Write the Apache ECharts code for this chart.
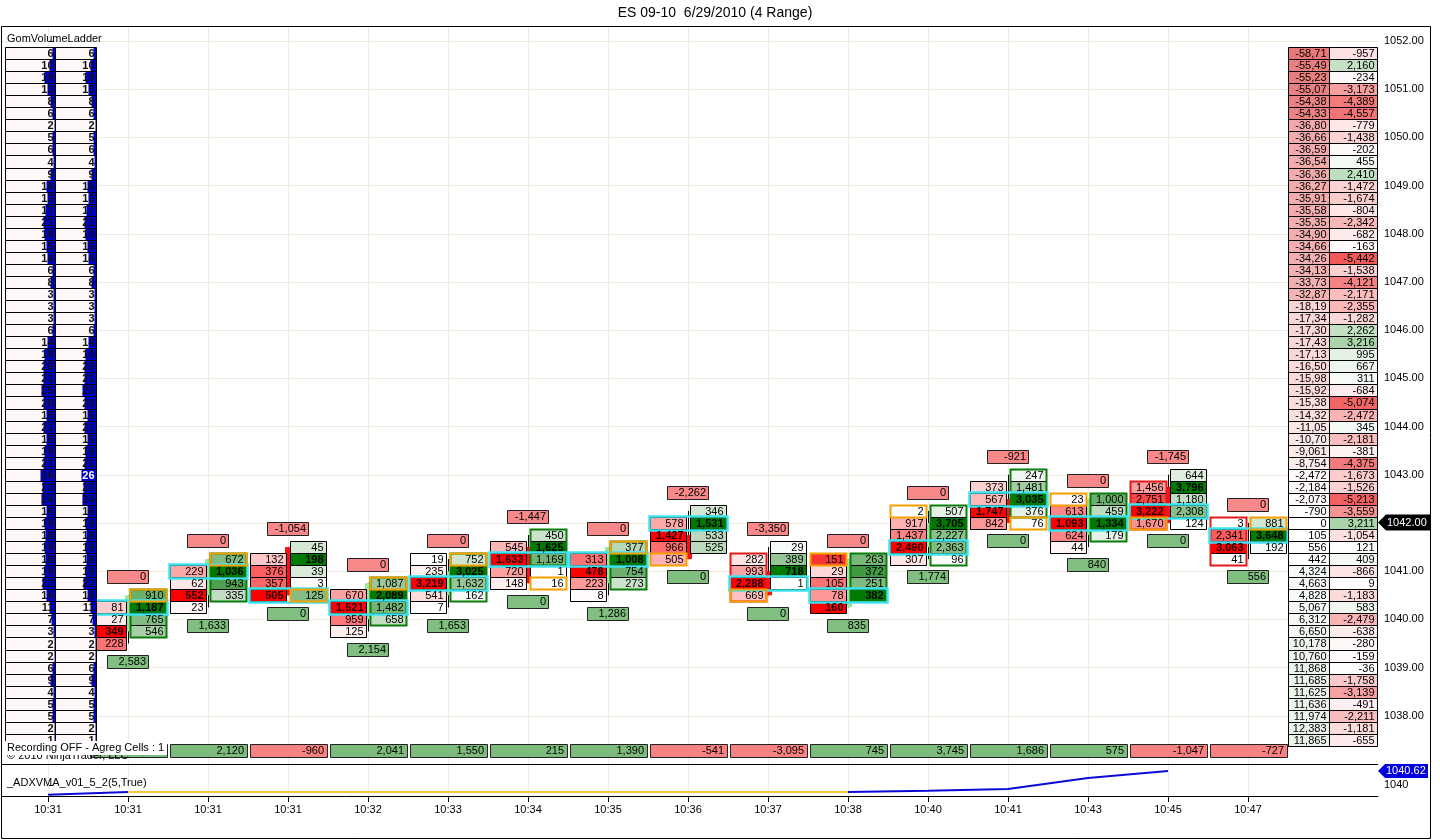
<!DOCTYPE html>
<html><head><meta charset="utf-8">
<script src="https://cdn.jsdelivr.net/npm/echarts@6/dist/echarts.min.js"></script>
<style>html,body{margin:0;padding:0;background:#fff;}#c{width:1440px;height:840px;}</style>
</head><body><div id="c"></div>
<script>
const FF = '"Liberation Sans", Arial, sans-serif';
const FFN = '"Liberation Sans Narrow", "Liberation Sans", Arial, sans-serif';

// ---------- DATA ----------
const times = ["10:31","10:31","10:31","10:31","10:32","10:33","10:34","10:35","10:36","10:37","10:38","10:40","10:41","10:43","10:45","10:47"];
const TICK = 0.25;
const firstBarIdx = 1;               // footprint bars start at the 2nd time slot
const barHigh = [1040.50,1041.25,1041.50,1040.75,1041.25,1041.75,1041.50,1042.25,1041.50,1041.25,1042.25,1043.00,1042.50,1043.00,1042.00];
const barOpen  = [1039.75,1040.50,1041.50,1040.00,1040.50,1041.50,1040.75,1041.75,1041.00,1040.25,1041.50,1042.50,1041.75,1042.75,1041.75];
const barClose = [1040.50,1041.25,1040.50,1040.75,1041.00,1040.75,1041.50,1041.25,1040.50,1041.25,1042.00,1042.00,1042.50,1042.00,1041.75];
const bidVol = [
 [null,81,27,349,228],
 [null,229,62,552,23],
 [null,132,376,357,505],
 [null,670,1521,959,125],
 [19,235,3219,541,7],
 [null,545,1633,720,148],
 [null,313,478,223,8],
 [null,578,1427,966,505],
 [null,282,993,2288,669],
 [151,29,105,78,160],
 [2,917,1437,2490,307],
 [null,373,567,1747,842],
 [23,613,1093,624,44],
 [null,1456,2751,3222,1670],
 [3,2341,3063,41]
];
const askVol = [
 [910,1187,765,546,null],
 [672,1036,943,335,null],
 [45,198,39,3,125],
 [1087,2089,1482,658,null],
 [752,3025,1632,162,null],
 [450,1625,1169,1,16],
 [377,1008,754,273,null],
 [346,1531,533,525,null],
 [29,389,718,1,null],
 [263,372,251,382,null],
 [507,3705,2227,2363,96],
 [247,1481,3035,376,76],
 [1000,459,1334,179,null],
 [644,3796,1180,2308,124],
 [881,3648,192,null]
];
const lastTradePrice = [1040.50,1041.25,1040.50,1040.75,1041.25,1040.75,1041.50,1041.25,1040.50,1041.25,1042.25,1042.00,1042.50,1042.00,1042.00];
const lastTradeSide  = ['A','A','A','A','A','A','A','B','B','B','B','A','B','B','A'];
const outlineHi = [1040.50,1041.25,null,1040.75,1041.25,1041.75,1041.50,null,1041.25,1041.25,1042.25,1043.00,1042.50,1042.75,1042.00];
const outlineLo = [1039.75,1040.50,null,1040.00,1040.50,1041.25,1040.75,null,1040.50,1040.50,1041.25,1042.25,1041.75,1042.00,1041.25];
const topLabel    = [0,0,-1054,0,0,-1447,0,-2262,-3350,0,0,-921,0,-1745,0];
const bottomLabel = [2583,1633,0,2154,1653,0,1286,0,0,835,1774,0,840,0,556];
const barDelta    = [2723,2120,-960,2041,1550,215,1390,-541,-3095,745,3745,1686,575,-1047,-727];

const ladderTop = 1051.75;
const ladderVol = [6,10,19,13,8,6,2,5,6,4,9,16,13,17,21,19,15,14,6,8,3,3,3,6,14,19,20,21,25,
                   20,15,21,15,19,21,26,23,24,16,19,18,19,18,19,22,16,11,7,3,2,2,6,9,4,5,5,2,1];
const cumDelta = [-58710,-55490,-55230,-55070,-54380,-54330,-36800,-36660,-36590,-36540,-36360,-36270,-35910,-35580,-35350,-34900,
                  -34660,-34260,-34130,-33730,-32870,-18190,-17340,-17300,-17430,-17130,-16500,-15980,-15920,-15380,-14320,-11050,
                  -10700,-9061,-8754,-2472,-2184,-2073,-790,0,105,556,442,4324,4663,4828,5067,6312,
                  6650,10178,10760,11868,11685,11625,11636,11974,12383,11865];
const priceDelta = [-957,2160,-234,-3173,-4389,-4557,-779,-1438,-202,455,2410,-1472,-1674,-804,-2342,-682,
                    -163,-5442,-1538,-4121,-2171,-2355,-1282,2262,3216,995,667,311,-684,-5074,-2472,345,
                    -2181,-381,-4375,-1673,-1526,-5213,-3559,3211,-1054,121,409,-866,9,-1183,583,-2479,
                    -638,-280,-159,-36,-1758,-3139,-491,-2211,-1181,-655];
const lastPrice = 1042.00;
const priceTicks = [1038,1039,1040,1041,1042,1043,1044,1045,1046,1047,1048,1049,1050,1051,1052];
const adx = [1039.56,1039.69,1039.69,1039.69,1039.69,1039.69,1039.69,1039.69,1039.69,1039.69,1039.69,1039.74,1039.82,1040.31,1040.62,null];

// ---------- helpers ----------
const X_MIN = -0.575, X_MAX = 16.625;
const rowPrice = i => ladderTop - TICK * i;
const fmt = v => v.toLocaleString('en-US');
function mix(a, b, t){ t = Math.max(0, Math.min(1, t)); return 'rgb(' + [0,1,2].map(i => Math.round(a[i] + (b[i]-a[i])*t)).join(',') + ')'; }
const WH = [255,255,255];
function bidColor(v, m){ return v === m ? 'rgb(255,0,0)' : mix(WH, [250,40,40], v/m); }
function askColor(v, m){ return v === m ? 'rgb(0,122,0)' : mix(WH, [60,150,60], v/m); }
const absMaxCum = Math.max(...cumDelta.map(Math.abs));
const absMaxPD = Math.max(...priceDelta.map(Math.abs));
function cumColor(v){ return v < 0 ? mix(WH, [232,120,120], -v/absMaxCum) : mix(WH, [150,195,150], v/absMaxCum); }
function pdColor(v){ return v < 0 ? mix(WH, [240,90,90], -v/absMaxPD) : mix(WH, [110,180,110], v/absMaxPD); }
const idxList = times.map((t,i) => i);

function txt(text, x, y, opts){
  return {type:'text', z2: 10, style: Object.assign({text: text, x: x, y: y, align:'right', verticalAlign:'middle', font: '11px ' + FF, fill:'#000'}, opts || {})};
}
function box(x, y, w, h, fill, stroke, lw){
  return {type:'rect', shape:{x:x, y:y, width:w, height:h}, style:{fill: fill || 'none', stroke: stroke || null, lineWidth: lw || 1}};
}
// row edges shared between neighbours (no double lines)
function rowEdges(api, xv, p){
  const t = Math.round(api.coord([xv, p + TICK/2])[1]) + 0.5;
  const b = Math.round(api.coord([xv, p - TICK/2])[1]) + 0.5;
  return [t, b - t];
}

// ---------- renderers ----------
function renderGridLines(params, api){
  const cs = params.coordSys;
  const x = Math.round(api.coord([api.value(0), api.value(1)])[0]) + 0.5;
  return {type:'line', shape:{x1:x, y1:cs.y, x2:x, y2:cs.y+cs.height}, style:{stroke:'#f0ebdd', lineWidth:1}};
}

function renderFoot(params, api){
  const k = params.dataIndex;
  const cs = params.coordSys;
  const xi = api.value(0);
  const hi = barHigh[k];
  const bids = bidVol[k], asks = askVol[k];
  const n = bids.length;
  const lo = hi - TICK*(n-1);
  const c = Math.round(api.coord([xi, hi])[0]);
  const yOf = p => api.coord([xi, p])[1];
  const bx = c - 38 + 0.5, ax = c + 2 + 0.5, CW = 36;
  const ch = [];
  // wick
  ch.push({type:'line', shape:{x1:c+0.5, y1:yOf(hi), x2:c+0.5, y2:yOf(lo)}, style:{stroke:'#000', lineWidth:1}});
  // body
  const o = barOpen[k], cl = barClose[k];
  if (o !== cl) {
    const y1 = yOf(Math.max(o,cl)), y2 = yOf(Math.min(o,cl));
    ch.push(box(c-3, y1, 7, y2-y1, cl > o ? '#9be49b' : '#ff1010'));
  }
  const bv = bids.filter(v => v != null), av = asks.filter(v => v != null);
  const bMax = Math.max(...bv), aMax = Math.max(...av);
  let poc = 0, pocV = -1;
  for (let j = 0; j < n; j++) {
    const p = hi - TICK*j;
    const [top, RH] = rowEdges(api, xi, p);
    const mid = top + RH/2;
    const b = bids[j], a = asks[j];
    if (b != null) {
      ch.push(box(bx, top, CW, RH, bidColor(b, bMax), '#000', 1));
      ch.push(txt(fmt(b), bx + CW - 3, mid, b === bMax ? {font:'bold 11px ' + FF, fill:'#200000'} : null));
    }
    if (a != null) {
      ch.push(box(ax, top, CW, RH, askColor(a, aMax), '#000', 1));
      ch.push(txt(fmt(a), ax + CW - 3, mid, a === aMax ? {font:'bold 11px ' + FF} : null));
    }
    const tot = (b || 0) + (a || 0);
    if (tot > pocV) { pocV = tot; poc = j; }
  }
  // outline (side by delta sign)
  if (outlineHi[k] != null) {
    const up = barDelta[k] >= 0;
    const t = rowEdges(api, xi, outlineHi[k])[0];
    const lb = rowEdges(api, xi, outlineLo[k]);
    ch.push(box(up ? ax : bx, t, CW, lb[0] + lb[1] - t, null, up ? '#0b7d0b' : '#e41a1a', 2));
  }
  // point of control
  {
    const [t, RH] = rowEdges(api, xi, hi - TICK*poc);
    ch.push(box(bx - 1, t - 1, ax + CW - bx + 2, RH + 2, null, '#3fe3ef', 2.5));
  }
  // last trade cell
  {
    const [t, RH] = rowEdges(api, xi, lastTradePrice[k]);
    ch.push(box(lastTradeSide[k] === 'A' ? ax : bx, t, CW, RH, null, '#f5a000', 2));
  }
  // top / bottom labels
  {
    const yt = Math.round(yOf(hi + 0.38) - 6.5) + 0.5;
    ch.push(box(c - 21 + 0.5, yt, 41, 13, '#f98888', '#222', 1));
    ch.push(txt(fmt(topLabel[k]), c + 18, yt + 6.5));
    const yb = Math.round(yOf(lo - 0.37) - 6.5) + 0.5;
    ch.push(box(c - 21 + 0.5, yb, 41, 13, '#80bf80', '#222', 1));
    ch.push(txt(fmt(bottomLabel[k]), c + 18, yb + 6.5));
  }
  // bar delta row at bottom
  {
    const yd = cs.y + cs.height - 20 + 0.5;
    const d = barDelta[k];
    ch.push(box(c - 38 + 0.5, yd, 77, 13, d >= 0 ? '#7dbb7d' : '#f88282', '#222', 1));
    ch.push(txt(fmt(d), c + 36, yd + 6.5));
  }
  return {type:'group', children: ch};
}

const ladderMax = Math.max(...ladderVol);
function renderLadder(params, api){
  const i = params.dataIndex;
  const cs = params.coordSys;
  const p = api.value(1);
  const v = ladderVol[i];
  const [top, RH] = rowEdges(api, 0, p);
  const mid = top + RH/2;
  const ch = [];
  const cols = [[cs.x + 3, 50], [cs.x + 53, 41]];
  cols.forEach((cc, ci) => {
    const x = cc[0] + 0.5, w = cc[1];
    ch.push(box(x, top, w, RH, '#fff8f8', null));
    const bw = Math.min(w, Math.round(v * 0.58));
    ch.push(box(x + w - bw, top, bw, RH, '#0000cc', null));
    ch.push(box(x, top, w, RH, null, '#000', 1));
    const white = ci === 1 && v === ladderMax;
    ch.push(txt(String(v), x + w - 2, mid + 0.5, {font:'bold 11px ' + FFN, fill: white ? '#fff' : '#101010'}));
  });
  return {type:'group', children: ch};
}

function renderRight(params, api){
  const i = params.dataIndex;
  const cs = params.coordSys;
  const p = api.value(1);
  const [top, RH] = rowEdges(api, 0, p);
  const mid = top + RH/2;
  const R = cs.x + cs.width;
  const ch = [];
  const c1x = R - 90 + 0.5, c1w = 41, c2x = R - 49 + 0.5, c2w = 48;
  ch.push(box(c1x, top, c1w, RH, cumColor(cumDelta[i]), '#000', 1));
  ch.push(txt(fmt(cumDelta[i]).slice(0, 6), c1x + c1w - 3, mid));
  ch.push(box(c2x, top, c2w, RH, pdColor(priceDelta[i]), '#000', 1));
  ch.push(txt(fmt(priceDelta[i]), c2x + c2w - 3, mid));
  if (p === lastPrice) {
    const yc = Math.round(api.coord([0, p])[1]) - 0.5;
    ch.push({type:'polygon', shape:{points:[[R, yc],[R+8, yc-8],[R+52, yc-8],[R+52, yc+8],[R+8, yc+8]]}, style:{fill:'#000'}, z2: 20});
    ch.push({type:'text', z2: 21, style:{text: lastPrice.toFixed(2), x: R+9, y: yc, align:'left', verticalAlign:'middle', font:'11px ' + FF, fill:'#fff'}});
  }
  return {type:'group', children: ch};
}

function renderAdxTag(params, api){
  const cs = params.coordSys;
  const R = cs.x + cs.width;
  const yc = Math.round(api.coord([api.value(0), api.value(1)])[1]);
  return {type:'group', children:[
    {type:'polygon', shape:{points:[[R, yc],[R+7, yc-7],[R+50, yc-7],[R+50, yc+7],[R+7, yc+7]]}, style:{fill:'#0000e0'}},
    {type:'text', style:{text: api.value(1).toFixed(2), x: R+8, y: yc, align:'left', verticalAlign:'middle', font:'11px ' + FF, fill:'#fff'}}
  ]};
}

// ADX colouring: flat segments yellow, moving segments blue
const adxBlue = adx.map((v, i) => {
  if (v == null) return [i, '-'];
  const prevMove = i > 0 && adx[i-1] != null && adx[i-1] !== v;
  const nextMove = i < adx.length-1 && adx[i+1] != null && adx[i+1] !== v;
  return [i, (prevMove || nextMove) ? v : '-'];
});
const adxYellow = adx.map((v, i) => {
  if (v == null) return [i, '-'];
  const prevFlat = i > 0 && adx[i-1] === v;
  const nextFlat = i < adx.length-1 && adx[i+1] === v;
  return [i, (prevFlat || nextFlat) ? v : '-'];
});
let lastAdxIdx = adx.length - 1; while (adx[lastAdxIdx] == null) lastAdxIdx--;

const chart = echarts.init(document.getElementById('c'));
chart.setOption({
  animation: false,
  backgroundColor: '#ffffff',
  textStyle: {fontFamily: FF},
  grid: [
    {left: 2, top: 27, width: 1376, height: 737},
    {left: 2, top: 764, width: 1376, height: 32}
  ],
  xAxis: [
    {gridIndex: 0, type: 'value', min: X_MIN, max: X_MAX, show: false},
    {gridIndex: 1, type: 'value', min: X_MIN, max: X_MAX,
     axisLine: {show: true, lineStyle: {color: '#000', width: 1}},
     axisTick: {show: true, customValues: idxList, length: 6, lineStyle: {color: '#000'}},
     axisLabel: {show: true, customValues: idxList, formatter: v => times[Math.round(v)], color: '#000', fontSize: 11, fontFamily: FF, margin: 8},
     splitLine: {show: false}}
  ],
  yAxis: [
    {gridIndex: 0, type: 'value', position: 'right', min: 1037, max: 1052.29, interval: 1,
     axisLine: {show: true, lineStyle: {color: '#000'}},
     axisTick: {show: true, customValues: priceTicks, length: 5, lineStyle: {color: '#000'}},
     axisLabel: {show: true, customValues: priceTicks, formatter: v => Number(v).toFixed(2), color: '#000', fontSize: 11, fontFamily: FF, margin: 6},
     splitLine: {show: true, lineStyle: {color: '#f0ebdd', width: 1}}},
    {gridIndex: 1, type: 'value', position: 'right', min: 1039.51, max: 1040.93,
     axisLine: {show: true, lineStyle: {color: '#000'}},
     axisTick: {show: true, customValues: [1040], length: 5, lineStyle: {color: '#000'}},
     axisLabel: {show: true, customValues: [1040], formatter: v => String(Math.round(v)), color: '#000', fontSize: 11, fontFamily: FF, margin: 6},
     splitLine: {show: false}}
  ],
  series: [
    {type: 'custom', name: 'vgrid0', xAxisIndex: 0, yAxisIndex: 0, z: 1, silent: true,
     data: idxList.map(i => [i, 1045]), renderItem: renderGridLines},
    {type: 'custom', name: 'vgrid1', xAxisIndex: 1, yAxisIndex: 1, z: 1, silent: true,
     data: idxList.map(i => [i, 1040]), renderItem: renderGridLines},
    {type: 'custom', name: 'footprint', xAxisIndex: 0, yAxisIndex: 0, z: 3, silent: true, clip: false,
     data: barHigh.map((h, k) => [k + firstBarIdx, h]), renderItem: renderFoot},
    {type: 'custom', name: 'ladder', xAxisIndex: 0, yAxisIndex: 0, z: 4, silent: true, clip: false,
     data: ladderVol.map((v, i) => [0, rowPrice(i), v]), renderItem: renderLadder},
    {type: 'custom', name: 'rightcol', xAxisIndex: 0, yAxisIndex: 0, z: 4, silent: true, clip: false,
     data: cumDelta.map((v, i) => [0, rowPrice(i), v]), renderItem: renderRight},
    {type: 'line', name: 'adxBlue', xAxisIndex: 1, yAxisIndex: 1, z: 3, data: adxBlue, showSymbol: false,
     connectNulls: false, lineStyle: {color: '#0a0ad8', width: 2}, itemStyle: {color: '#0a0ad8'}},
    {type: 'line', name: 'adxYellow', xAxisIndex: 1, yAxisIndex: 1, z: 3, data: adxYellow, showSymbol: false,
     connectNulls: false, lineStyle: {color: '#f6c83a', width: 2}, itemStyle: {color: '#f6c83a'}},
    {type: 'custom', name: 'adxTag', xAxisIndex: 1, yAxisIndex: 1, z: 5, silent: true, clip: false,
     data: [[lastAdxIdx, adx[lastAdxIdx]]], renderItem: renderAdxTag}
  ],
  graphic: [
    {type: 'text', z: 100, style: {text: 'ES 09-10  6/29/2010 (4 Range)', x: 715, y: 13, align: 'center', verticalAlign: 'middle', font: '14px ' + FF, fill: '#000'}},
    {type: 'rect', z: 100, shape: {x: 1.5, y: 26.5, width: 1429, height: 812}, style: {fill: 'none', stroke: '#000', lineWidth: 1}},
    {type: 'line', z: 100, shape: {x1: 2, y1: 764.5, x2: 1378, y2: 764.5}, style: {stroke: '#000', lineWidth: 1}},
    {type: 'text', z: 100, style: {text: 'GomVolumeLadder', x: 7, y: 39, align: 'left', verticalAlign: 'middle', font: '11px ' + FF, fill: '#000'}},
    {type: 'text', z: 99, style: {text: '\u00a9 2010 NinjaTrader, LLC', x: 7, y: 756, align: 'left', verticalAlign: 'middle', font: '11px ' + FF, fill: '#000'}},
    {type: 'rect', z: 100, shape: {x: 5, y: 741, width: 162, height: 14}, style: {fill: '#ffffff'}},
    {type: 'text', z: 101, style: {text: 'Recording OFF - Agreg Cells : 1', x: 7, y: 748, align: 'left', verticalAlign: 'middle', font: '11px ' + FF, fill: '#000'}},
    {type: 'text', z: 100, style: {text: '_ADXVMA_v01_5_2(5,True)', x: 7, y: 783, align: 'left', verticalAlign: 'middle', font: '11px ' + FF, fill: '#000'}}
  ]
});
</script>
</body></html>
